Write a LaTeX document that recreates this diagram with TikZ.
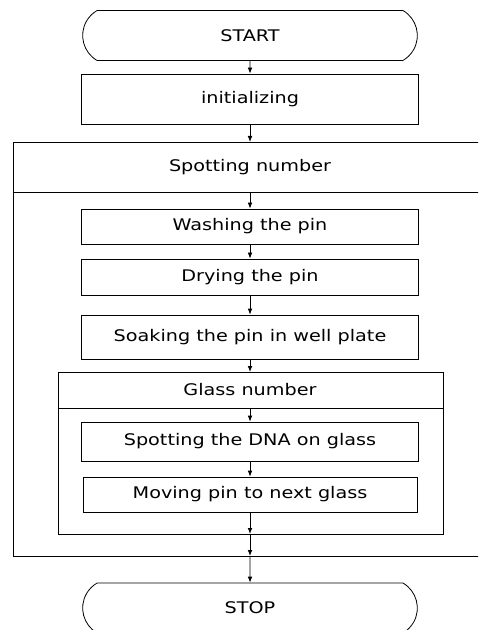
\documentclass[tikz,border=0pt]{standalone}
\usepackage{fontspec}
\setmainfont{DejaVu Sans}[FakeStretch=1.2]
\usetikzlibrary{arrows.meta,shapes.misc}
\tikzset{
  flowline/.style={line width=0.6pt},
  terminal/.style={draw,flowline,rounded rectangle,rounded rectangle arc length=120,minimum width=251pt,minimum height=37.5pt,inner sep=0pt},
  stepbox/.style={draw,flowline,minimum width=253pt,inner sep=0pt},
  loopframe/.style={draw,flowline,inner sep=0pt},
  looptitle/.style={inner sep=0pt},
  flowarrow/.style={flowline,-{Latex[length=4.5pt,width=3.5pt]}}
}
\begin{document}
\begin{tikzpicture}[x=0.75pt,y=-0.75pt,font=\fontsize{12}{14}\selectfont]
\path[use as bounding box,clip] (0,0) rectangle (478,630);
% start and initializing
\node[terminal] (start) at (250,35.5) {START};
\node[stepbox,minimum height=37.5pt] (init) at (250,99) {initializing};
% outer loop
\node[loopframe,minimum width=356pt,minimum height=310.5pt] (spotframe) at (250.5,349) {};
\node[looptitle] (spottitle) at (250,167) {Spotting number};
\draw[flowline] (spotframe.west |- 0,192) coordinate (spotsep) -- (spotframe.east |- 0,192);
\node[stepbox,minimum height=26.25pt] (wash) at (250,226.5) {Washing the pin};
\node[stepbox,minimum height=27pt] (dry) at (250,277) {Drying the pin};
\node[stepbox,minimum height=33pt] (soak) at (250,337) {Soaking the pin in well plate};
% inner loop
\node[loopframe,minimum width=288.75pt,minimum height=121.5pt] (glassframe) at (250.5,453) {};
\node[looptitle] (glasstitle) at (250,390) {Glass number};
\draw[flowline] (glassframe.west |- 0,408) -- (glassframe.east |- 0,408);
\node[stepbox,minimum height=29.25pt] (dna) at (250,441.5) {Spotting the DNA on glass};
\node[stepbox,minimum width=250.5pt,minimum height=26.25pt] (move) at (250,494.5) {Moving pin to next glass};
% stop
\node[terminal] (stop) at (250,608) {STOP};
% connectors
\coordinate (spottop) at (250,142);
\coordinate (spotmid) at (250,192);
\coordinate (glasstop) at (250,372);
\coordinate (glassmid) at (250,408);
\coordinate (glassbot) at (250,534);
\coordinate (spotbot) at (250,556);
\draw[flowarrow] (start) -- (init);
\draw[flowarrow] (init) -- (spottop);
\draw[flowarrow] (spotmid) -- (wash);
\draw[flowarrow] (wash) -- (dry);
\draw[flowarrow] (dry) -- (soak);
\draw[flowarrow] (soak) -- (glasstop);
\draw[flowarrow] (glassmid) -- (dna);
\draw[flowarrow] (dna) -- (move);
\draw[flowarrow] (move) -- (glassbot);
\draw[flowarrow] (glassbot) -- (spotbot);
\draw[flowarrow] (spotbot) -- (stop);
\end{tikzpicture}
\end{document}
